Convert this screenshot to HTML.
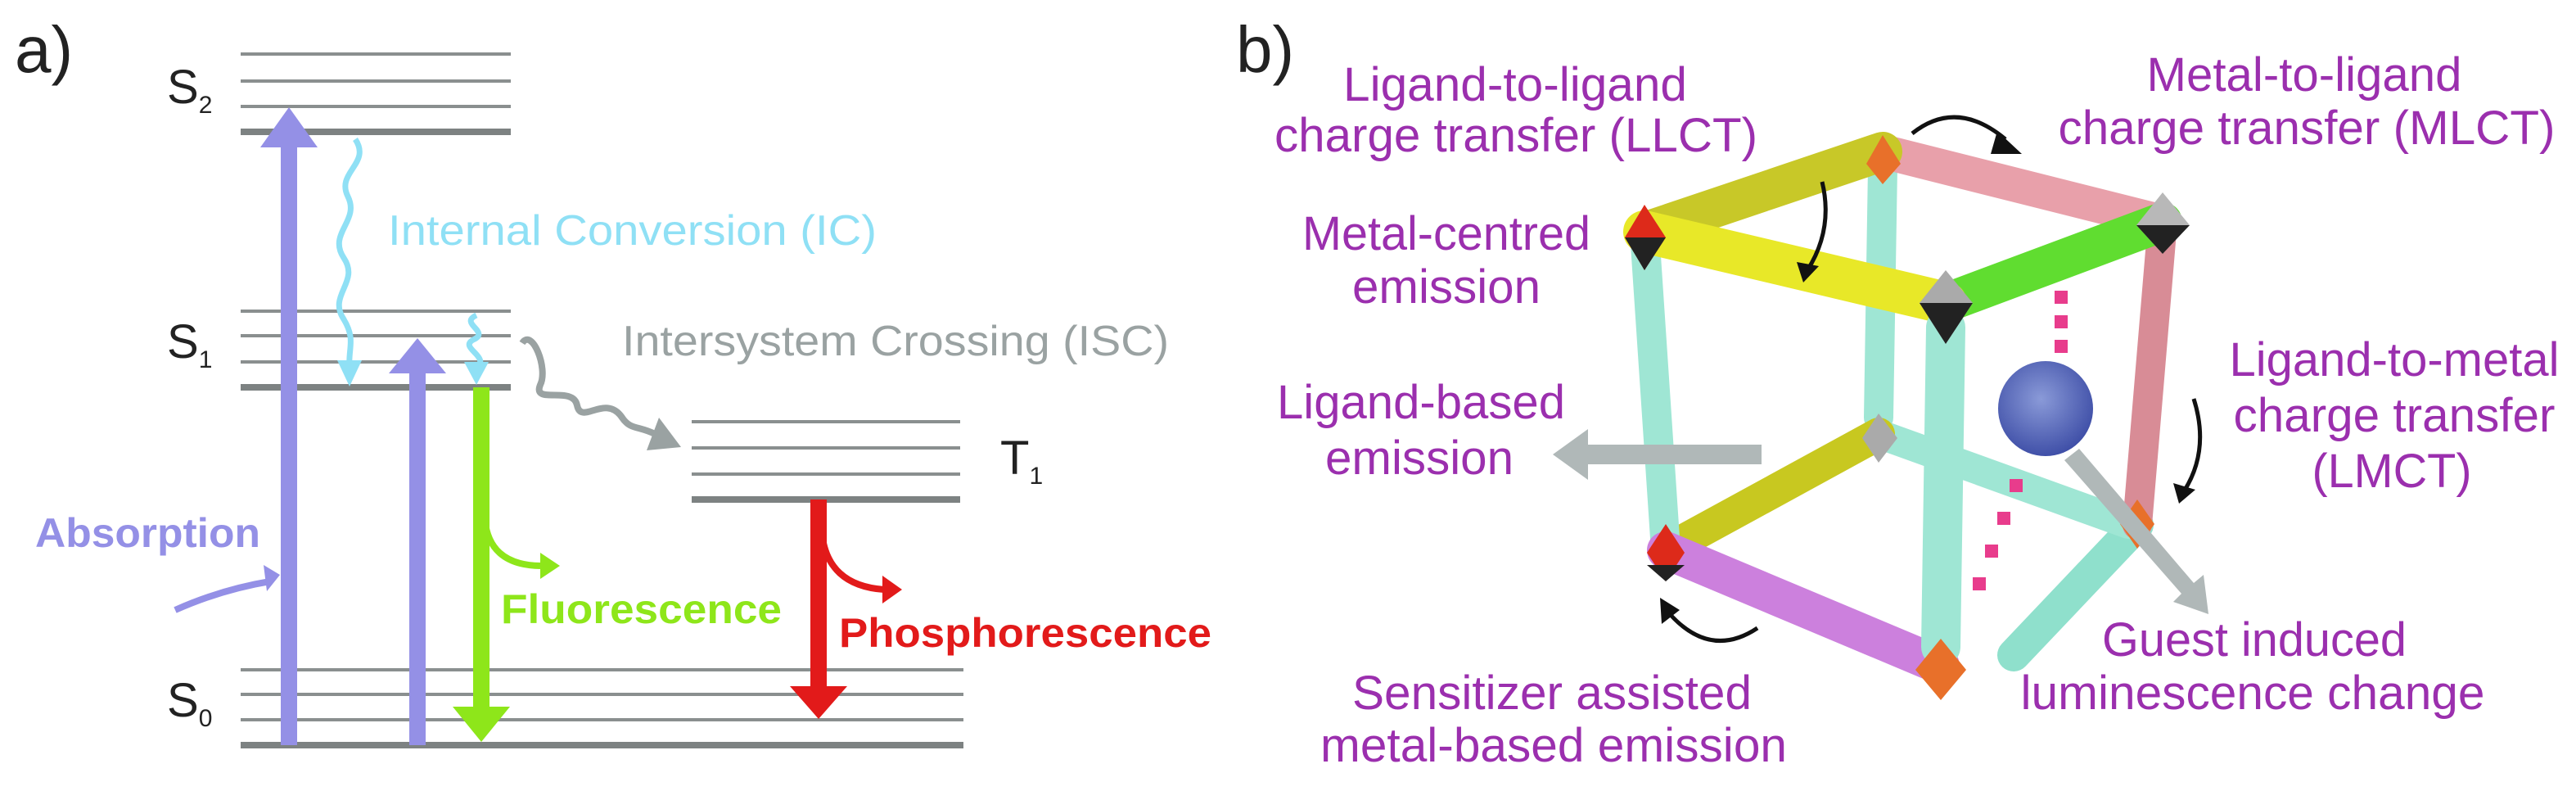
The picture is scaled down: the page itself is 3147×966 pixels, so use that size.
<!DOCTYPE html>
<html><head><meta charset="utf-8"><style>
html,body{margin:0;padding:0;background:#fff;}
svg{display:block;}
text{font-family:"Liberation Sans",Arial,sans-serif;}
</style></head><body>
<svg width="3147" height="966" viewBox="0 0 3147 966" xmlns="http://www.w3.org/2000/svg">
<defs>
<radialGradient id="sph" cx="0.45" cy="0.4" r="0.6"><stop offset="0" stop-color="#8a9ad8"/><stop offset="1" stop-color="#4050a8"/></radialGradient>
</defs>
<text x="18" y="88" font-size="80" fill="#222">a)</text>
<g stroke="#8a8f8f" stroke-width="4">
<line x1="294" y1="66" x2="624" y2="66"/><line x1="294" y1="99" x2="624" y2="99"/><line x1="294" y1="130" x2="624" y2="130"/>
<line x1="294" y1="380" x2="624" y2="380"/><line x1="294" y1="410" x2="624" y2="410"/><line x1="294" y1="442" x2="624" y2="442"/>
<line x1="845" y1="515" x2="1173" y2="515"/><line x1="845" y1="547" x2="1173" y2="547"/><line x1="845" y1="579" x2="1173" y2="579"/>
<line x1="294" y1="818" x2="1177" y2="818"/><line x1="294" y1="848" x2="1177" y2="848"/><line x1="294" y1="879" x2="1177" y2="879"/>
</g>
<g stroke="#7d8282" stroke-width="8">
<line x1="294" y1="161" x2="624" y2="161"/><line x1="294" y1="473" x2="624" y2="473"/>
<line x1="845" y1="610" x2="1173" y2="610"/><line x1="294" y1="910" x2="1177" y2="910"/>
</g>
<text x="204" y="126" font-size="58" fill="#222">S<tspan font-size="30" dy="12">2</tspan></text>
<text x="204" y="437" font-size="58" fill="#222">S<tspan font-size="30" dy="12">1</tspan></text>
<text x="204" y="875" font-size="58" fill="#222">S<tspan font-size="30" dy="12">0</tspan></text>
<text x="1222" y="579" font-size="58" fill="#222">T<tspan font-size="30" dy="12">1</tspan></text>
<rect x="343" y="175" width="20" height="735" fill="#9490e6"/>
<polygon points="318,180 353,131 388,180" fill="#9490e6"/>
<rect x="500" y="450" width="20" height="460" fill="#9490e6"/>
<polygon points="475,456 510,413 545,456" fill="#9490e6"/>
<path d="M214,745 Q270,720 330,710" stroke="#9490e6" stroke-width="8" fill="none"/>
<polygon points="322,690 342,702 326,722" fill="#9490e6"/>
<rect x="578" y="473" width="20" height="395" fill="#8ee61a"/>
<polygon points="553,863 588,906 623,863" fill="#8ee61a"/>
<path d="M592,630 Q595,690 660,691" stroke="#8ee61a" stroke-width="8" fill="none"/>
<polygon points="660,675 684,691 660,707" fill="#8ee61a"/>
<rect x="990" y="610" width="20" height="232" fill="#e21a1a"/>
<polygon points="965,838 1000,878 1035,838" fill="#e21a1a"/>
<path d="M1004,650 Q1010,715 1080,720" stroke="#e21a1a" stroke-width="8" fill="none"/>
<polygon points="1078,703 1102,720 1078,737" fill="#e21a1a"/>
<path d="M434,170 C454,200 410,210 425,240 C440,270 400,285 420,315 C440,345 400,360 420,390 C435,415 425,425 427,450" stroke="#8fe0f5" stroke-width="7" fill="none"/>
<polygon points="412,440 427,472 442,440" fill="#8fe0f5"/>
<path d="M582,385 C560,395 600,405 578,415 C560,425 600,435 582,450" stroke="#8fe0f5" stroke-width="7" fill="none"/>
<polygon points="567,442 582,470 597,442" fill="#8fe0f5"/>
<path d="M638,419 C650,400 670,450 660,470 C650,495 700,470 705,495 C710,520 740,480 760,510 C770,525 780,520 800,530" stroke="#9aa2a2" stroke-width="8" fill="none"/>
<polygon points="805,510 832,546 790,550" fill="#9aa2a2"/>
<text x="474" y="299" font-size="52" fill="#8fe0f5" textLength="597" lengthAdjust="spacingAndGlyphs">Internal Conversion (IC)</text>
<text x="760" y="434" font-size="52" fill="#9aa2a2" textLength="668" lengthAdjust="spacingAndGlyphs">Intersystem Crossing (ISC)</text>
<text x="43" y="668" font-size="50" fill="#9490e6" font-weight="bold" textLength="275" lengthAdjust="spacingAndGlyphs">Absorption</text>
<text x="612" y="761" font-size="50" fill="#8ee61a" font-weight="bold" textLength="343" lengthAdjust="spacingAndGlyphs">Fluorescence</text>
<text x="1025" y="790" font-size="50" fill="#e21a1a" font-weight="bold" textLength="455" lengthAdjust="spacingAndGlyphs">Phosphorescence</text>
<text x="1510" y="88" font-size="80" fill="#222">b)</text>
<g stroke-linecap="round" fill="none">
<line x1="2300" y1="205" x2="2295" y2="510" stroke="#9fe6d4" stroke-width="36"/>
<line x1="2611" y1="641" x2="2460" y2="800" stroke="#8fe0cc" stroke-width="40"/>
<line x1="2295" y1="530" x2="2600" y2="640" stroke="#9fe6d4" stroke-width="36"/>
<line x1="2035" y1="672" x2="2295" y2="530" stroke="#c8c820" stroke-width="40"/>
<line x1="2009" y1="283" x2="2035" y2="672" stroke="#9fe6d4" stroke-width="36"/>
<line x1="2642" y1="271" x2="2611" y2="641" stroke="#d88c96" stroke-width="36"/>
<line x1="2300" y1="185" x2="2642" y2="271" stroke="#e8a0aa" stroke-width="42"/>
<line x1="2009" y1="283" x2="2300" y2="185" stroke="#c8c828" stroke-width="48"/>
<line x1="2642" y1="271" x2="2377" y2="370" stroke="#60dd30" stroke-width="48"/>
<line x1="2009" y1="283" x2="2377" y2="370" stroke="#e8e828" stroke-width="52"/>
<line x1="2035" y1="672" x2="2371" y2="813" stroke="#cc80dd" stroke-width="46"/>
<line x1="2377" y1="400" x2="2371" y2="790" stroke="#9fe6d4" stroke-width="48"/>
</g>
<circle cx="2499" cy="499" r="58" fill="url(#sph)"/>
<g fill="#e83c8c">
<rect x="2510" y="355" width="16" height="16"/><rect x="2510" y="385" width="16" height="16"/><rect x="2510" y="415" width="16" height="16"/>
<rect x="2455" y="585" width="16" height="16"/><rect x="2440" y="625" width="16" height="16"/><rect x="2425" y="665" width="16" height="16"/><rect x="2410" y="705" width="16" height="16"/>
</g>
<g>
<polygon points="2300,165 2280,200 2300,225 2322,200" fill="#e8702a"/>
<polygon points="2009,250 1985,290 2009,330 2035,290" fill="#dd2a1a"/>
<polygon points="2009,290 1985,290 2009,330 2035,290" fill="#222"/>
<polygon points="2377,330 2345,370 2377,420 2410,370" fill="#aaa"/>
<polygon points="2377,370 2345,370 2377,420 2410,370" fill="#222"/>
<polygon points="2642,235 2610,275 2642,310 2675,275" fill="#b8b8b8"/>
<polygon points="2642,275 2610,275 2642,310 2675,275" fill="#222"/>
<polygon points="2295,505 2275,535 2295,565 2318,535" fill="#aaa"/>
<polygon points="2035,640 2012,675 2035,710 2058,675" fill="#dd2a1a"/>
<polygon points="2035,690 2012,690 2035,710 2058,690" fill="#222"/>
<polygon points="2371,780 2340,818 2371,855 2402,818" fill="#e8702a"/>
<polygon points="2611,610 2590,640 2611,670 2632,640" fill="#e8702a"/>
</g>
<polygon points="2152,543 1940,543 1940,524 1897,555 1940,586 1940,567 2152,567" fill="#b0b8b8"/>
<polygon points="2522,562 2540,548 2680,712 2692,702 2698,750 2655,735 2665,725" fill="#b0b8b8"/>
<g stroke="#111" stroke-width="5" fill="none">
<path d="M2336,163 Q2390,120 2450,170"/>
<path d="M2226,222 Q2240,280 2208,330"/>
<path d="M2680,487 Q2700,550 2668,600"/>
<path d="M2147,767 Q2090,805 2040,750"/>
</g>
<g fill="#111">
<polygon points="2440,160 2470,188 2432,188"/>
<polygon points="2195,320 2203,345 2222,325"/>
<polygon points="2655,590 2662,615 2682,598"/>
<polygon points="2030,762 2028,730 2052,745"/>
</g>
<g font-size="58" fill="#9b2fae" text-anchor="middle">
<text x="1851" y="123" textLength="420" lengthAdjust="spacingAndGlyphs">Ligand-to-ligand</text>
<text x="1852" y="185" textLength="590" lengthAdjust="spacingAndGlyphs">charge transfer (LLCT)</text>
<text x="2815" y="111" textLength="385" lengthAdjust="spacingAndGlyphs">Metal-to-ligand</text>
<text x="2818" y="176" textLength="607" lengthAdjust="spacingAndGlyphs">charge transfer (MLCT)</text>
<text x="1767" y="305" textLength="352" lengthAdjust="spacingAndGlyphs">Metal-centred</text>
<text x="1767" y="370" textLength="230" lengthAdjust="spacingAndGlyphs">emission</text>
<text x="1736" y="511" textLength="352" lengthAdjust="spacingAndGlyphs">Ligand-based</text>
<text x="1734" y="579" textLength="230" lengthAdjust="spacingAndGlyphs">emission</text>
<text x="2925" y="459" textLength="403" lengthAdjust="spacingAndGlyphs">Ligand-to-metal</text>
<text x="2925" y="527" textLength="393" lengthAdjust="spacingAndGlyphs">charge transfer</text>
<text x="2922" y="595" textLength="195" lengthAdjust="spacingAndGlyphs">(LMCT)</text>
<text x="2754" y="801" textLength="372" lengthAdjust="spacingAndGlyphs">Guest induced</text>
<text x="2752" y="866" textLength="567" lengthAdjust="spacingAndGlyphs">luminescence change</text>
<text x="1896" y="866" textLength="488" lengthAdjust="spacingAndGlyphs">Sensitizer assisted</text>
<text x="1898" y="930" textLength="570" lengthAdjust="spacingAndGlyphs">metal-based emission</text>
</g>
</svg>
</body></html>
